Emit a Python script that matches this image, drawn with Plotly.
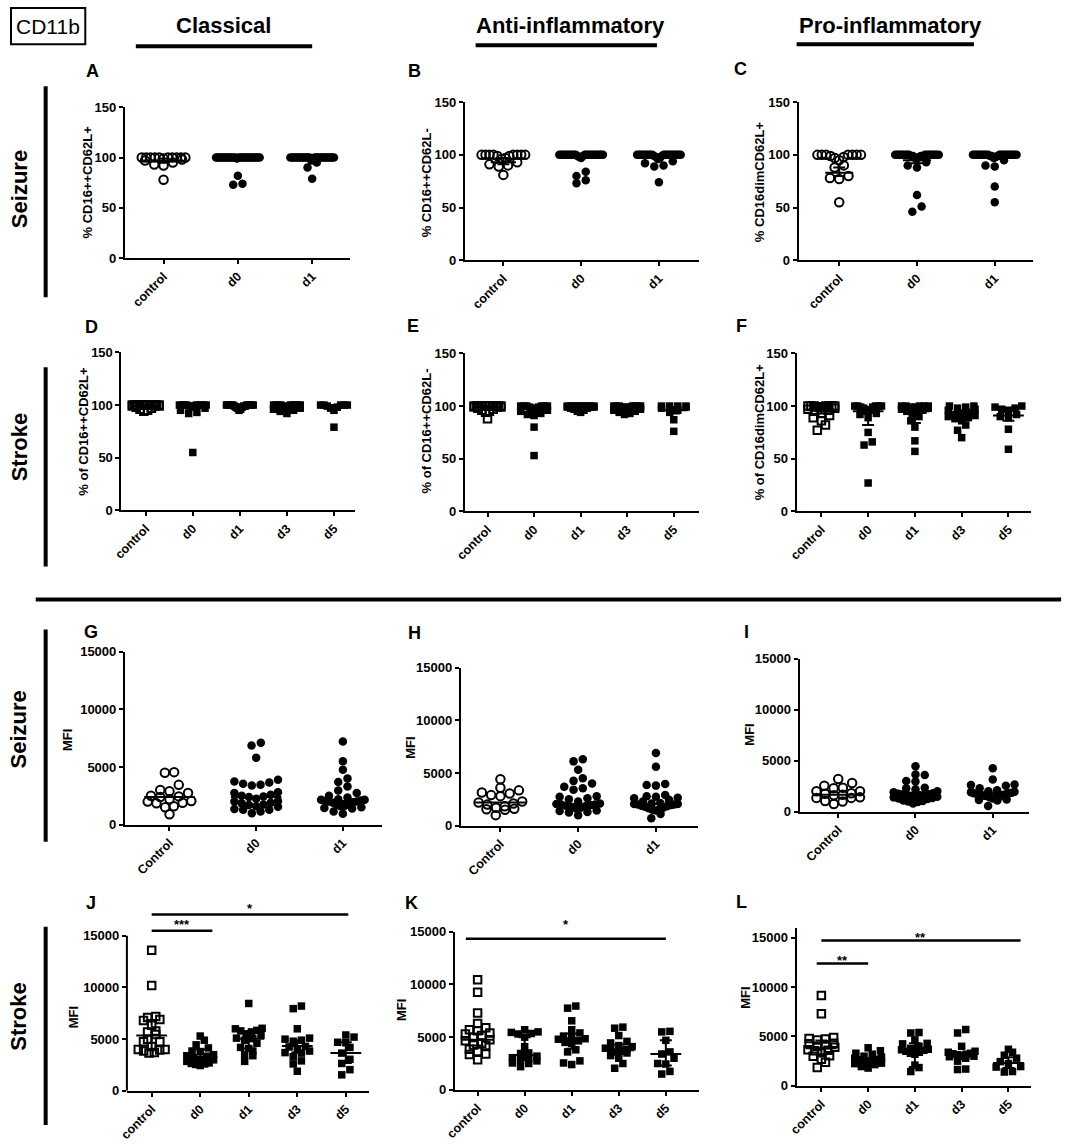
import plotly.graph_objects as go

W, H = 1074, 1144
FONT = "Liberation Sans, Arial, sans-serif"

# ---------------- categories ----------------
seizure_cats = ["control", "d0", "d1"]
seizure_cats_mfi = ["Control", "d0", "d1"]
stroke_cats = ["control", "d0", "d1", "d3", "d5"]

# ---------------- A: % CD16++CD62L+ (seizure) ----------------
A_control = [100, 100, 100, 100, 100, 100, 100, 100, 100, 100, 99, 98, 97, 95, 93, 92, 78]
A_d0 = [100, 100, 100, 100, 100, 100, 100, 100, 100, 100, 100, 100, 100, 100, 100, 100, 100, 100, 100, 100,
        100, 100, 100, 100, 100, 99, 82, 74, 73]
A_d1 = [100, 100, 100, 100, 100, 100, 100, 100, 100, 100, 100, 100, 100, 100, 100, 100, 100, 100, 100, 100,
        100, 100, 100, 100, 99, 97, 95, 90, 79]
A_center = [97, 99, 99]
A_lo = [95, 98, 98]
A_hi = [99, 100, 100]

# ---------------- B: % CD16++CD62L- (seizure) ----------------
B_control = [100, 100, 100, 100, 100, 100, 100, 100, 99, 99, 97, 96, 93, 91, 90, 89, 81]
B_d0 = [100, 100, 100, 100, 100, 100, 100, 100, 100, 100, 100, 100, 100, 100, 100, 100, 100, 100, 100, 100,
        100, 99, 99, 98, 97, 84, 80, 76, 73]
B_d1 = [100, 100, 100, 100, 100, 100, 100, 100, 100, 100, 100, 100, 100, 100, 100, 100, 100, 100, 100, 99,
        99, 98, 97, 96, 94, 92, 90, 89, 74]
B_center = [93, 99, 99]
B_lo = [91, 98, 97]
B_hi = [97, 100, 100]

# ---------------- C: % CD16dimCD62L+ (seizure) ----------------
C_control = [100, 100, 100, 100, 100, 100, 100, 99, 98, 97, 95, 90, 88, 80, 78, 77, 55]
C_d0 = [100, 100, 100, 100, 100, 100, 100, 100, 100, 100, 100, 100, 100, 100, 100, 100, 99, 99, 99, 99,
        98, 97, 96, 93, 90, 88, 62, 51, 46]
C_d1 = [100, 100, 100, 100, 100, 100, 100, 100, 100, 100, 100, 100, 100, 100, 100, 100, 100, 100, 100, 99,
        99, 99, 98, 97, 95, 90, 89, 70, 55]
C_center = [83, 95, 98]
C_lo = [80, 92, 96]
C_hi = [88, 98, 99]

# ---------------- D: % of CD16++CD62L+ (stroke) ----------------
D_control = [100, 100, 100, 100, 100, 100, 100, 100, 100, 100, 100, 100, 99, 99, 99, 98, 97, 96, 95, 94]
D_d0 = [100, 100, 100, 100, 100, 100, 100, 100, 100, 99, 99, 98, 97, 95, 93, 92, 55]
D_d1 = [100, 100, 100, 100, 100, 100, 100, 100, 100, 100, 99, 99, 99, 98, 98, 97, 96, 95]
D_d3 = [100, 100, 100, 100, 100, 100, 100, 100, 100, 99, 99, 98, 97, 96, 95, 94, 92]
D_d5 = [100, 100, 100, 100, 100, 99, 98, 97, 95, 79]
D_center = [99, 99, 99, 99, 98]
D_lo = [98, 97, 98, 97, 96]
D_hi = [100, 100, 100, 100, 100]

# ---------------- E: % of CD16++CD62L- (stroke) ----------------
E_control = [100, 100, 100, 100, 100, 100, 100, 100, 100, 100, 100, 99, 99, 99, 98, 97, 96, 95, 94, 88]
E_d0 = [100, 100, 100, 100, 100, 100, 99, 99, 98, 97, 96, 95, 93, 92, 91, 80, 53]
E_d1 = [100, 100, 100, 100, 100, 100, 100, 100, 100, 99, 99, 99, 98, 98, 97, 96, 95, 94]
E_d3 = [100, 100, 100, 100, 100, 100, 100, 99, 99, 99, 98, 97, 96, 95, 94, 93, 92]
E_d5 = [100, 100, 100, 100, 99, 98, 96, 94, 87, 76]
E_center = [99, 98, 99, 98, 96]
E_lo = [98, 96, 98, 97, 93]
E_hi = [100, 100, 100, 100, 99]

# ---------------- F: % of CD16dimCD62L+ (stroke) ----------------
F_control = [100, 100, 100, 100, 100, 100, 100, 99, 99, 99, 98, 97, 96, 95, 93, 91, 89, 86, 82, 77]
F_d0 = [100, 100, 100, 100, 100, 99, 99, 98, 96, 95, 93, 92, 89, 75, 66, 63, 27]
F_d1 = [100, 100, 100, 100, 99, 99, 98, 97, 96, 95, 94, 93, 90, 86, 80, 67, 57, 100]
F_d3 = [100, 100, 99, 98, 97, 96, 94, 92, 92, 91, 90, 89, 88, 86, 82, 77, 70]
F_d5 = [100, 99, 98, 97, 96, 92, 90, 89, 78, 59]
F_center = [96, 95, 95, 91, 91]
F_lo = [93, 82, 84, 87, 86]
F_hi = [99, 99, 99, 96, 96]

# ---------------- G: MFI classical (seizure) ----------------
G_control = [4550, 4500, 3450, 3000, 2900, 2750, 2500, 2450, 2400, 2200, 2050, 2000, 1900, 1850, 1600, 1500, 900]
G_d0 = [7100, 6850, 5800, 3900, 3750, 3650, 3550, 3450, 3400, 2800, 2750, 2600, 2500, 2450, 2400, 2250, 2050,
        2000, 1900, 1850, 1750, 1700, 1600, 1550, 1350, 1300, 1300, 1150, 1000]
G_d1 = [7200, 5500, 4750, 4000, 3700, 3300, 2950, 2750, 2500, 2350, 2200, 2150, 2150, 2100, 2050, 2000, 2000,
        1950, 1900, 1800, 1700, 1650, 1600, 1500, 1450, 1400, 1150, 950]
G_center = [2400, 2400, 2050]

# ---------------- H: MFI anti-inflammatory (seizure) ----------------
H_control = [4400, 3600, 3350, 3150, 3050, 2900, 2800, 2300, 2200, 2100, 2000, 1850, 1700, 1600, 1550, 1500, 1000]
H_d0 = [6300, 6100, 5300, 4500, 4250, 4000, 3700, 3550, 3400, 2800, 2750, 2600, 2500, 2300, 2100, 2050, 2000,
        2000, 1950, 1900, 1850, 1800, 1700, 1650, 1450, 1400, 1300, 1250, 1000]
H_d1 = [6900, 5600, 3950, 3850, 3800, 2900, 2800, 2750, 2650, 2600, 2450, 2300, 2150, 2100, 2050, 2050, 2000,
        2000, 1950, 1900, 1850, 1800, 1700, 1650, 1550, 1500, 1450, 1100, 700]
H_center = [2200, 2050, 2050]

# ---------------- I: MFI pro-inflammatory (seizure) ----------------
I_control = [3200, 2800, 2550, 2350, 2300, 2000, 2000, 1800, 1750, 1650, 1600, 1400, 1350, 1350, 1050, 1000, 750]
I_d0 = [4450, 3650, 3600, 3000, 2950, 2350, 2300, 2200, 2000, 1900, 1800, 1750, 1700, 1700, 1650, 1650, 1600,
        1550, 1500, 1450, 1400, 1350, 1300, 1250, 1100, 1050, 1000, 950, 800]
I_d1 = [4250, 3150, 2650, 2600, 2550, 2300, 2100, 2000, 1950, 1900, 1850, 1800, 1800, 1750, 1700, 1650, 1650,
        1600, 1550, 1550, 1500, 1500, 1450, 1400, 1300, 1200, 1150, 1100, 550]
I_center = [1650, 1700, 1850]

# ---------------- J: MFI classical (stroke) ----------------
J_control = [13600, 10200, 7200, 7100, 6900, 6800, 6350, 5800, 5700, 5450, 5000, 4750, 4750, 4300, 4000, 4000,
             3950, 3850, 3700, 3650]
J_d0 = [5300, 4900, 4450, 4150, 3850, 3800, 3500, 3400, 3350, 3200, 3050, 3000, 2850, 2700, 2650, 2600, 2550, 2450]
J_d1 = [8450, 6050, 6000, 5850, 5800, 5700, 5500, 5400, 5100, 5050, 4900, 4600, 4200, 4100, 3850, 3500, 3400, 2850]
J_d3 = [8200, 7950, 6000, 5100, 5000, 4900, 4800, 4300, 4250, 4000, 3850, 3700, 3650, 3300, 2900, 2600, 1900]
J_d5 = [5400, 5200, 4700, 4650, 4200, 3650, 3050, 2650, 2050, 1550]
J_center = [5350, 2900, 5050, 4350, 3650]
J_lo = [3950, 2700, 4100, 3700, 2700]
J_hi = [6850, 4000, 5800, 4900, 4700]

# ---------------- K: MFI anti-inflammatory (stroke) ----------------
K_control = [10450, 9250, 7300, 6300, 5900, 5700, 5600, 5400, 5300, 5150, 5000, 4750, 4650, 4400, 4250, 4200,
             3850, 3650, 3400, 3350, 2850]
K_d0 = [5700, 5500, 5450, 5350, 5300, 5000, 4100, 3500, 3450, 3200, 3050, 2950, 2800, 2750, 2550, 2500, 2200]
K_d1 = [7950, 7750, 6550, 5700, 5400, 5100, 5050, 4850, 4800, 4650, 4500, 4400, 3800, 3600, 2750, 2550, 2400]
K_d3 = [5950, 5850, 5150, 4600, 4450, 4200, 4100, 3950, 3850, 3800, 3750, 3600, 3500, 3250, 3000, 2500, 2050]
K_d5 = [5550, 5500, 4700, 3600, 3400, 3000, 2500, 2450, 1750, 1500]
K_center = [4750, 3300, 4900, 3750, 3400]
K_lo = [4200, 2800, 3900, 3400, 2300]
K_hi = [5300, 5000, 5350, 4300, 4700]

# ---------------- L: MFI pro-inflammatory (stroke) ----------------
L_control = [9150, 7300, 4900, 4800, 4750, 4650, 4300, 4250, 4150, 4000, 3900, 3650, 3600, 3550, 3350, 3050,
             3000, 2700, 2400, 1850]
L_d0 = [3850, 3550, 3300, 3200, 3000, 2900, 2800, 2700, 2650, 2550, 2450, 2400, 2300, 2250, 2150, 1950, 1800]
L_d1 = [5400, 5350, 4650, 4300, 4250, 4000, 3800, 3700, 3650, 3600, 3500, 3400, 3300, 3200, 2100, 1850, 1450]
L_d3 = [5700, 5350, 4000, 3500, 3400, 3300, 3250, 3200, 3150, 3100, 3000, 2950, 2800, 2500, 1700, 1650]
L_d5 = [3700, 3400, 3100, 2800, 2450, 2250, 1950, 1900, 1450, 1400]
L_center = [3800, 2500, 3600, 3100, 2300]
L_lo = [3200, 2300, 1900, 2700, 1800]
L_hi = [4600, 2800, 4300, 3300, 2900]

# significance bars: (from category, to category, level, label)
J_sig = [(0.0, 1.25, 15490, "***"), (0.0, 4.05, 17060, "*")]
K_sig = [(-0.25, 4.0, 14330, "*")]
L_sig = [(-0.1, 1.0, 12370, "**"), (0.0, 4.26, 14700, "**")]

pct_ticks = [0, 50, 100, 150]
mfi_ticks = [0, 5000, 10000, 15000]

# ---------------- layout geometry (reference pixels) ----------------
# geo = (y-axis x, x-axis end, first category x, category spacing, y of zero, y of top)
panels = [
    dict(letter="A", lpos=(91, 72), cats=seizure_cats, groups=[A_control, A_d0, A_d1], sym="circle",
         ytitle="% CD16++CD62L+", tpos=(86, 183), ymax=150, ticks=pct_ticks,
         c=A_center, lo=A_lo, hi=A_hi, geo=(124, 351, 163, 75, 259, 108), maxw=44, lw=18),
    dict(letter="B", lpos=(416, 72), cats=seizure_cats, groups=[B_control, B_d0, B_d1], sym="circle",
         ytitle="% CD16++CD62L-", tpos=(428, 184), ymax=150, ticks=pct_ticks,
         c=B_center, lo=B_lo, hi=B_hi, geo=(467, 703, 506, 78.5, 261, 103), maxw=44, lw=18),
    dict(letter="C", lpos=(745, 70), cats=seizure_cats, groups=[C_control, C_d0, C_d1], sym="circle",
         ytitle="% CD16dimCD62L+", tpos=(764, 182), ymax=150, ticks=pct_ticks,
         c=C_center, lo=C_lo, hi=C_hi, geo=(804, 1041, 845, 78.5, 261, 103), maxw=44, lw=20),
    dict(letter="D", lpos=(90, 328), cats=stroke_cats, groups=[D_control, D_d0, D_d1, D_d3, D_d5], sym="square",
         ytitle="% of CD16++CD62L+", tpos=(82, 432), ymax=150, ticks=pct_ticks,
         c=D_center, lo=D_lo, hi=D_hi, geo=(120.5, 356, 145, 47.5, 511, 353), maxw=27, lw=20),
    dict(letter="E", lpos=(415, 327), cats=stroke_cats, groups=[E_control, E_d0, E_d1, E_d3, E_d5], sym="square",
         ytitle="% of CD16++CD62L-", tpos=(428, 432), ymax=150, ticks=pct_ticks,
         c=E_center, lo=E_lo, hi=E_hi, geo=(467, 703, 490, 47, 512, 354), maxw=27, lw=20),
    dict(letter="F", lpos=(746, 327), cats=stroke_cats, groups=[F_control, F_d0, F_d1, F_d3, F_d5], sym="square",
         ytitle="% of CD16dimCD62L+", tpos=(764, 432), ymax=150, ticks=pct_ticks,
         c=F_center, lo=F_lo, hi=F_hi, geo=(802, 1039, 827, 47.2, 512, 354), maxw=27, lw=22),
    dict(letter="G", lpos=(90, 632), cats=seizure_cats_mfi, groups=[G_control, G_d0, G_d1], sym="circle",
         ytitle="MFI", tpos=(66, 740), ymax=15000, ticks=mfi_ticks,
         c=G_center, lo=G_center, hi=G_center, geo=(124, 383, 169, 87.5, 825, 652), maxw=44, lw=36),
    dict(letter="H", lpos=(416, 633), cats=seizure_cats_mfi, groups=[H_control, H_d0, H_d1], sym="circle",
         ytitle="MFI", tpos=(412, 748), ymax=15000, ticks=mfi_ticks,
         c=H_center, lo=H_center, hi=H_center, geo=(463, 702, 503, 78.5, 826, 668), maxw=44, lw=36),
    dict(letter="I", lpos=(751, 632), cats=seizure_cats_mfi, groups=[I_control, I_d0, I_d1], sym="circle",
         ytitle="MFI", tpos=(755, 735), ymax=15000, ticks=mfi_ticks,
         c=I_center, lo=I_center, hi=I_center, geo=(805, 1037, 844, 78, 812, 659), maxw=44, lw=34),
    dict(letter="J", lpos=(90, 903), cats=stroke_cats, groups=[J_control, J_d0, J_d1, J_d3, J_d5], sym="square",
         ytitle="MFI", tpos=(72, 1017), ymax=18000, axis_top=15000, ticks=mfi_ticks,
         c=J_center, lo=J_lo, hi=J_hi, geo=(126, 370, 151, 49, 1091, 905), maxw=27, lw=22, sig=J_sig,
         sig_shift={"***": -3, "*": -4}),
    dict(letter="K", lpos=(413, 903), cats=stroke_cats, groups=[K_control, K_d0, K_d1, K_d3, K_d5], sym="square",
         ytitle="MFI", tpos=(403, 1010), ymax=15000, ticks=mfi_ticks,
         c=K_center, lo=K_lo, hi=K_hi, geo=(457, 703, 480, 47.5, 1090, 932), maxw=27, lw=22, sig=K_sig,
         sig_shift={"*": 5}),
    dict(letter="L", lpos=(746, 902), cats=stroke_cats, groups=[L_control, L_d0, L_d1, L_d3, L_d5], sym="square",
         ytitle="MFI", tpos=(751, 998), ymax=16000, ticks=mfi_ticks,
         c=L_center, lo=L_lo, hi=L_hi, geo=(802, 1039, 827, 47.2, 1086, 928), maxw=27, lw=22, sig=L_sig,
         sig_shift={"**": -6}),
]

# map reference pixels to figure pixels (photographed page is slightly inset)
OFFX, OFFY, SY = 8.0, 7.9, 0.9862


def tx(x):
    return min(max(x - OFFX, 1.0), W - 1.0)


def ty(y):
    return min(max((y - OFFY) / SY, 1.0), H - 1.0)


def px(x):
    return tx(x) / W


def py(y):
    return 1 - ty(y) / H


def swarm(vals, ppu, size, maxw, thr=0.8):
    """Deterministic column-scatter offsets (pixels) for points sharing similar values."""
    idx = sorted(range(len(vals)), key=lambda i: (vals[i], i))
    rows = []
    for i in idx:
        if rows and (vals[i] - vals[rows[-1][0]]) * ppu < size * thr:
            rows[-1].append(i)
        else:
            rows.append([i])
    off = [0.0] * len(vals)
    for row in rows:
        k = len(row)
        if k == 1:
            continue
        s = min(size * 1.1, maxw / (k - 1))
        pos = [(j - (k - 1) / 2) * s for j in range(k)]
        pos = sorted(pos, key=lambda p: (abs(p), p))
        for i, p in zip(row, pos):
            off[i] = p
    return off


fig = go.Figure()
layout = dict(width=W, height=H, margin=dict(l=0, r=0, t=0, b=0), showlegend=False,
              plot_bgcolor="white", paper_bgcolor="white")
shapes = []
annotations = []

ytick_font = dict(family=FONT, size=13, color="black", weight="bold")
xtick_font = dict(family=FONT, size=12.5, color="black", weight="bold")

for k, p in enumerate(panels, start=1):
    sfx = "" if k == 1 else str(k)
    xa, ya = "x" + sfx, "y" + sfx
    xl, xr, c0, sp, y0, yt = p["geo"]
    ppu = (ty(y0) - ty(yt)) / p["ymax"]
    size = 8.5 if p["sym"] == "circle" else 7.5
    for gi, vals in enumerate(p["groups"]):
        offs = swarm(vals, ppu, size, p["maxw"])
        xs = [gi + o / sp for o in offs]
        if gi == 0:
            marker = dict(symbol=p["sym"] + "-open", size=size, color="black", line=dict(width=2, color="black"))
        else:
            marker = dict(symbol=p["sym"], size=size, color="black", line=dict(width=0))
        fig.add_trace(go.Scatter(x=xs, y=vals, mode="markers", marker=marker, xaxis=xa, yaxis=ya,
                                 hoverinfo="y", cliponaxis=False))
    n = len(p["cats"])
    has_err = any(h != c for h, c in zip(p["hi"], p["c"])) or any(l != c for l, c in zip(p["lo"], p["c"]))
    err = dict(type="data", symmetric=False,
               array=[h - c for h, c in zip(p["hi"], p["c"])],
               arrayminus=[c - l for c, l in zip(p["c"], p["lo"])],
               width=6, thickness=2, color="black", visible=has_err)
    fig.add_trace(go.Scatter(x=list(range(n)), y=p["c"], mode="markers", xaxis=xa, yaxis=ya,
                             marker=dict(symbol="line-ew", size=p["lw"], color="black",
                                         line=dict(width=2, color="black")),
                             error_y=err, hoverinfo="skip"))

    custom_line = "axis_top" in p
    layout["xaxis" + sfx] = dict(
        domain=[px(xl), px(xr)], anchor=ya, range=[-(c0 - xl) / sp, (xr - c0) / sp],
        tickvals=list(range(n)), ticktext=p["cats"], tickangle=-45, ticks="outside", ticklen=4,
        tickwidth=2, tickcolor="black", showline=True, linewidth=2, linecolor="black",
        showgrid=False, zeroline=False, tickfont=xtick_font, fixedrange=True)
    layout["yaxis" + sfx] = dict(
        domain=[py(y0), py(yt)], anchor=xa, range=[0, p["ymax"]], tickvals=p["ticks"],
        ticktext=[str(v) for v in p["ticks"]],
        ticks="outside", ticklen=4, tickwidth=2, tickcolor="black", showline=not custom_line,
        linewidth=2, linecolor="black", showgrid=False, zeroline=False, tickfont=ytick_font,
        fixedrange=True)
    if custom_line:
        shapes.append(dict(type="line", xref=xa + " domain", yref=ya, x0=0, x1=0, y0=0, y1=p["axis_top"],
                           line=dict(color="black", width=2)))

    annotations.append(dict(text="<b>%s</b>" % p["letter"], x=px(p["lpos"][0]), y=py(p["lpos"][1]),
                            xref="paper", yref="paper", showarrow=False, xanchor="center", yanchor="middle",
                            font=dict(family=FONT, size=18, color="black")))
    annotations.append(dict(text="<b>%s</b>" % p["ytitle"], x=px(p["tpos"][0]), y=py(p["tpos"][1]),
                            xref="paper", yref="paper", showarrow=False, textangle=-90,
                            xanchor="center", yanchor="middle", font=dict(family=FONT, size=13, color="black")))
    for (a, b, lvl, lab) in p.get("sig", []):
        shapes.append(dict(type="line", xref=xa, yref=ya, x0=a, x1=b, y0=lvl, y1=lvl,
                           line=dict(color="black", width=2.5)))
        annotations.append(dict(text="<b>%s</b>" % lab, x=(a + b) / 2, y=lvl, xref=xa, yref=ya,
                                showarrow=False, xanchor="center", yanchor="bottom",
                                yshift=p["sig_shift"].get(lab, 0),
                                font=dict(family=FONT, size=13, color="black")))

for text, cx, (u0, u1, uy) in [("Classical", 224, (135, 313, 47)),
                               ("Anti-inflammatory", 574, (478, 661, 46)),
                               ("Pro-inflammatory", 897, (802, 981, 45))]:
    annotations.append(dict(text="<b>%s</b>" % text, x=px(cx), y=py(26), xref="paper", yref="paper",
                            showarrow=False, xanchor="center", yanchor="middle",
                            font=dict(family=FONT, size=22, color="black")))
    shapes.append(dict(type="line", xref="paper", yref="paper", x0=px(u0), x1=px(u1), y0=py(uy), y1=py(uy),
                       line=dict(color="black", width=4)))

for text, cy, (b0, b1) in [("Seizure", 190, (87, 298)), ("Stroke", 448, (368, 567)),
                           ("Seizure", 730, (630, 842)), ("Stroke", 1017, (927, 1125))]:
    annotations.append(dict(text="<b>%s</b>" % text, x=px(17), y=py(cy), xref="paper", yref="paper",
                            showarrow=False, textangle=-90, xanchor="center", yanchor="middle",
                            font=dict(family=FONT, size=22, color="black")))
    shapes.append(dict(type="line", xref="paper", yref="paper", x0=px(44), x1=px(44), y0=py(b0), y1=py(b1),
                       line=dict(color="black", width=4)))

shapes.append(dict(type="line", xref="paper", yref="paper", x0=px(34), x1=px(1069), y0=py(600), y1=py(600),
                   line=dict(color="black", width=4)))

shapes.append(dict(type="rect", xref="paper", yref="paper", x0=px(3), x1=px(84), y0=py(5), y1=py(45),
                   line=dict(color="black", width=2)))
annotations.append(dict(text="CD11b", x=(px(3) + px(84)) / 2, y=(py(5) + py(45)) / 2, xref="paper",
                        yref="paper", showarrow=False, xanchor="center", yanchor="middle",
                        font=dict(family=FONT, size=21, color="black")))

layout["shapes"] = shapes
layout["annotations"] = annotations
fig.update_layout(**layout)
page_css = ("var s=document.createElement('style');"
            "s.textContent='html,body{margin:0!important;padding:0!important;overflow:hidden;}';"
            "document.head.appendChild(s);")
fig.write_html("out.html", config={"displayModeBar": False}, post_script=page_css)
